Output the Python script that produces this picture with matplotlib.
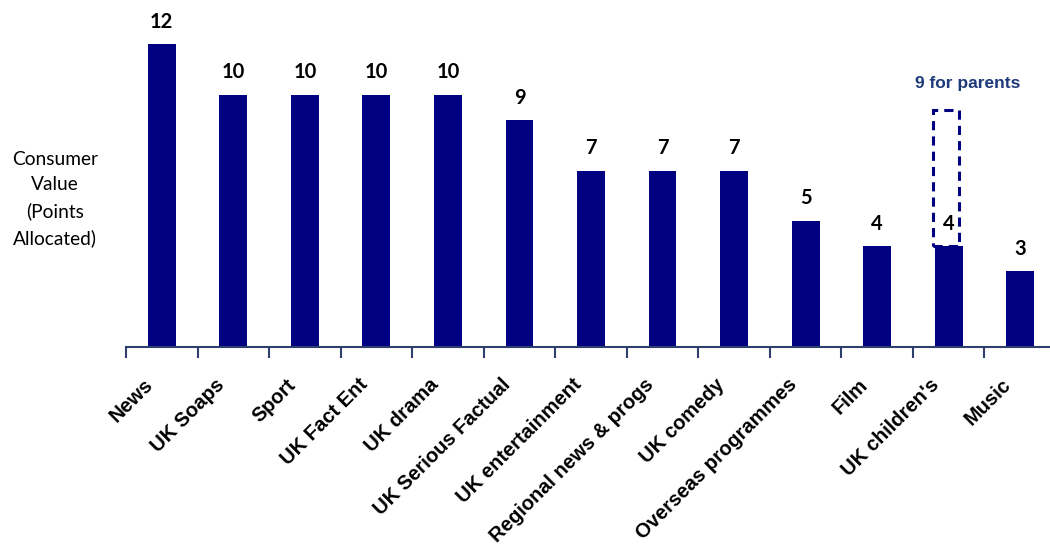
import matplotlib.pyplot as plt
from matplotlib.patches import Rectangle
import matplotlib.transforms as mtransforms
import numpy as np

plt.rcParams['font.family'] = ['Liberation Sans', 'DejaVu Sans']

# Data
categories = ["News", "UK Soaps", "Sport", "UK Fact Ent", "UK drama", "UK Serious Factual",
              "UK entertainment", "Regional news & progs", "UK comedy", "Overseas programmes",
              "Film", "UK children's", "Music"]
points = [12, 10, 10, 10, 10, 9, 7, 7, 7, 5, 4, 4, 3]
parents_value = 9.4
parents_label = "9 for parents"

bar_color = "#000080"
axis_color = "#2F4070"

fig = plt.figure(figsize=(10.5, 5.5), dpi=100)
ax = fig.add_axes([0.12, 0.369, 0.8857, 0.596])

x = np.arange(len(categories))
ax.bar(x, points, width=0.39, color=bar_color)

# value labels above bars
for xi, v in zip(x, points):
    ax.text(xi, v + 0.5, str(v), ha='center', va='bottom', fontsize=14.5, fontweight='bold',
            family=['Lato', 'DejaVu Sans'])

# dashed box for UK children's (parents)
ci = categories.index("UK children's")
box = Rectangle((ci - 0.215, points[ci]), 0.36, parents_value - points[ci], fill=False,
                edgecolor=bar_color, linestyle=(0, (3, 2)), linewidth=2.2, clip_on=False)
ax.add_patch(box)
ax.text(ci + 0.27, 10.45, parents_label, ha='center', va='center', fontsize=12.5,
        fontweight='bold', color="#1F3A7A")

ax.set_xlim(-0.5, len(categories) - 0.5)
ax.set_ylim(0, 13)

for s in ['top', 'right', 'left']:
    ax.spines[s].set_visible(False)
ax.spines['bottom'].set_color(axis_color)
ax.spines['bottom'].set_linewidth(1.5)
ax.set_yticks([])

# ticks between categories, labels at bar centres
ax.set_xticks(np.arange(len(categories) + 1) - 0.5, minor=False)
ax.set_xticklabels([])
ax.tick_params(axis='x', which='major', length=8, width=1.5, color=axis_color)
ax.set_xticks(x, minor=True)
ax.set_xticklabels(categories, minor=True, rotation=45, ha='right', va='center',
                   rotation_mode='anchor', fontsize=14.5, fontweight='bold')
ax.tick_params(axis='x', which='minor', length=0, pad=25)
shift = mtransforms.ScaledTranslation(-12 / 100, 0, fig.dpi_scale_trans)
for lab in ax.get_xticklabels(minor=True):
    lab.set_transform(lab.get_transform() + shift)

fig.text(55 / 1050, 1 - 199 / 550, "Consumer\nValue\n(Points\nAllocated)", ha='center', va='center',
         fontsize=13.8, linespacing=1.62, family=['Lato', 'DejaVu Sans'])

plt.savefig("out.png", dpi=100)
